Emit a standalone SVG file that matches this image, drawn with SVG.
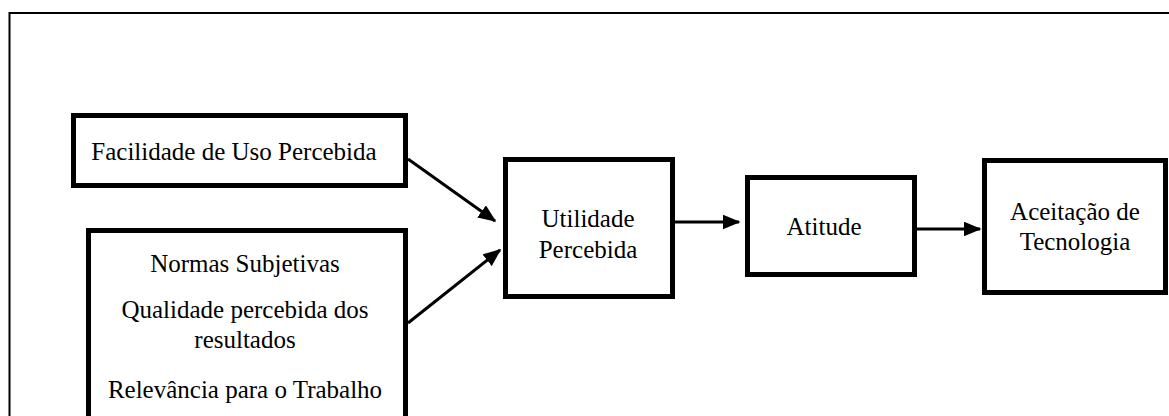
<svg xmlns="http://www.w3.org/2000/svg" width="1169" height="416" viewBox="0 0 1169 416">
<defs>
<style>
.box{fill:#fff;stroke:#000;stroke-width:5}
.c{stroke:#000;stroke-width:3;fill:none}
.t{font-family:"Liberation Serif","Times New Roman",serif;font-size:25px;fill:#000;text-anchor:middle}
</style>
<marker id="ah" markerWidth="6" markerHeight="5" refX="5.5" refY="2.5" orient="auto" markerUnits="strokeWidth">
<path d="M0,0 L6,2.5 L0,5 Z" fill="#000"/>
</marker>
</defs>
<rect width="1169" height="416" fill="#fff"/>
<rect x="9.5" y="13" width="1175" height="420" fill="none" stroke="#000" stroke-width="2"/>
<g id="connectors">
<line class="c" x1="408" y1="159" x2="495" y2="221" marker-end="url(#ah)"/>
<line class="c" x1="408" y1="323" x2="500" y2="250" marker-end="url(#ah)"/>
<line class="c" x1="675" y1="222" x2="739" y2="222" marker-end="url(#ah)"/>
<line class="c" x1="917" y1="229" x2="980" y2="229" marker-end="url(#ah)"/>
</g>
<g id="facilidade">
<rect class="box" x="73.5" y="115.5" width="332" height="70"/>
<text class="t" x="234" y="160">Facilidade de Uso Percebida</text>
</g>
<g id="normas">
<rect class="box" x="88.5" y="230.5" width="317" height="200"/>
<text class="t" x="245" y="272">Normas Subjetivas</text>
<text class="t" x="245" y="318">Qualidade percebida dos</text>
<text class="t" x="245" y="348">resultados</text>
<text class="t" x="245" y="398">Relevância para o Trabalho</text>
</g>
<g id="utilidade">
<rect class="box" x="505.5" y="159.5" width="167" height="137"/>
<text class="t" x="588" y="227">Utilidade</text>
<text class="t" x="588" y="258">Percebida</text>
</g>
<g id="atitude">
<rect class="box" x="747.5" y="177.5" width="167" height="97"/>
<text class="t" x="824" y="235">Atitude</text>
</g>
<g id="aceitacao">
<rect class="box" x="984.5" y="160.5" width="181" height="132"/>
<text class="t" x="1075" y="220">Aceitação de</text>
<text class="t" x="1075" y="250">Tecnologia</text>
</g>
</svg>
